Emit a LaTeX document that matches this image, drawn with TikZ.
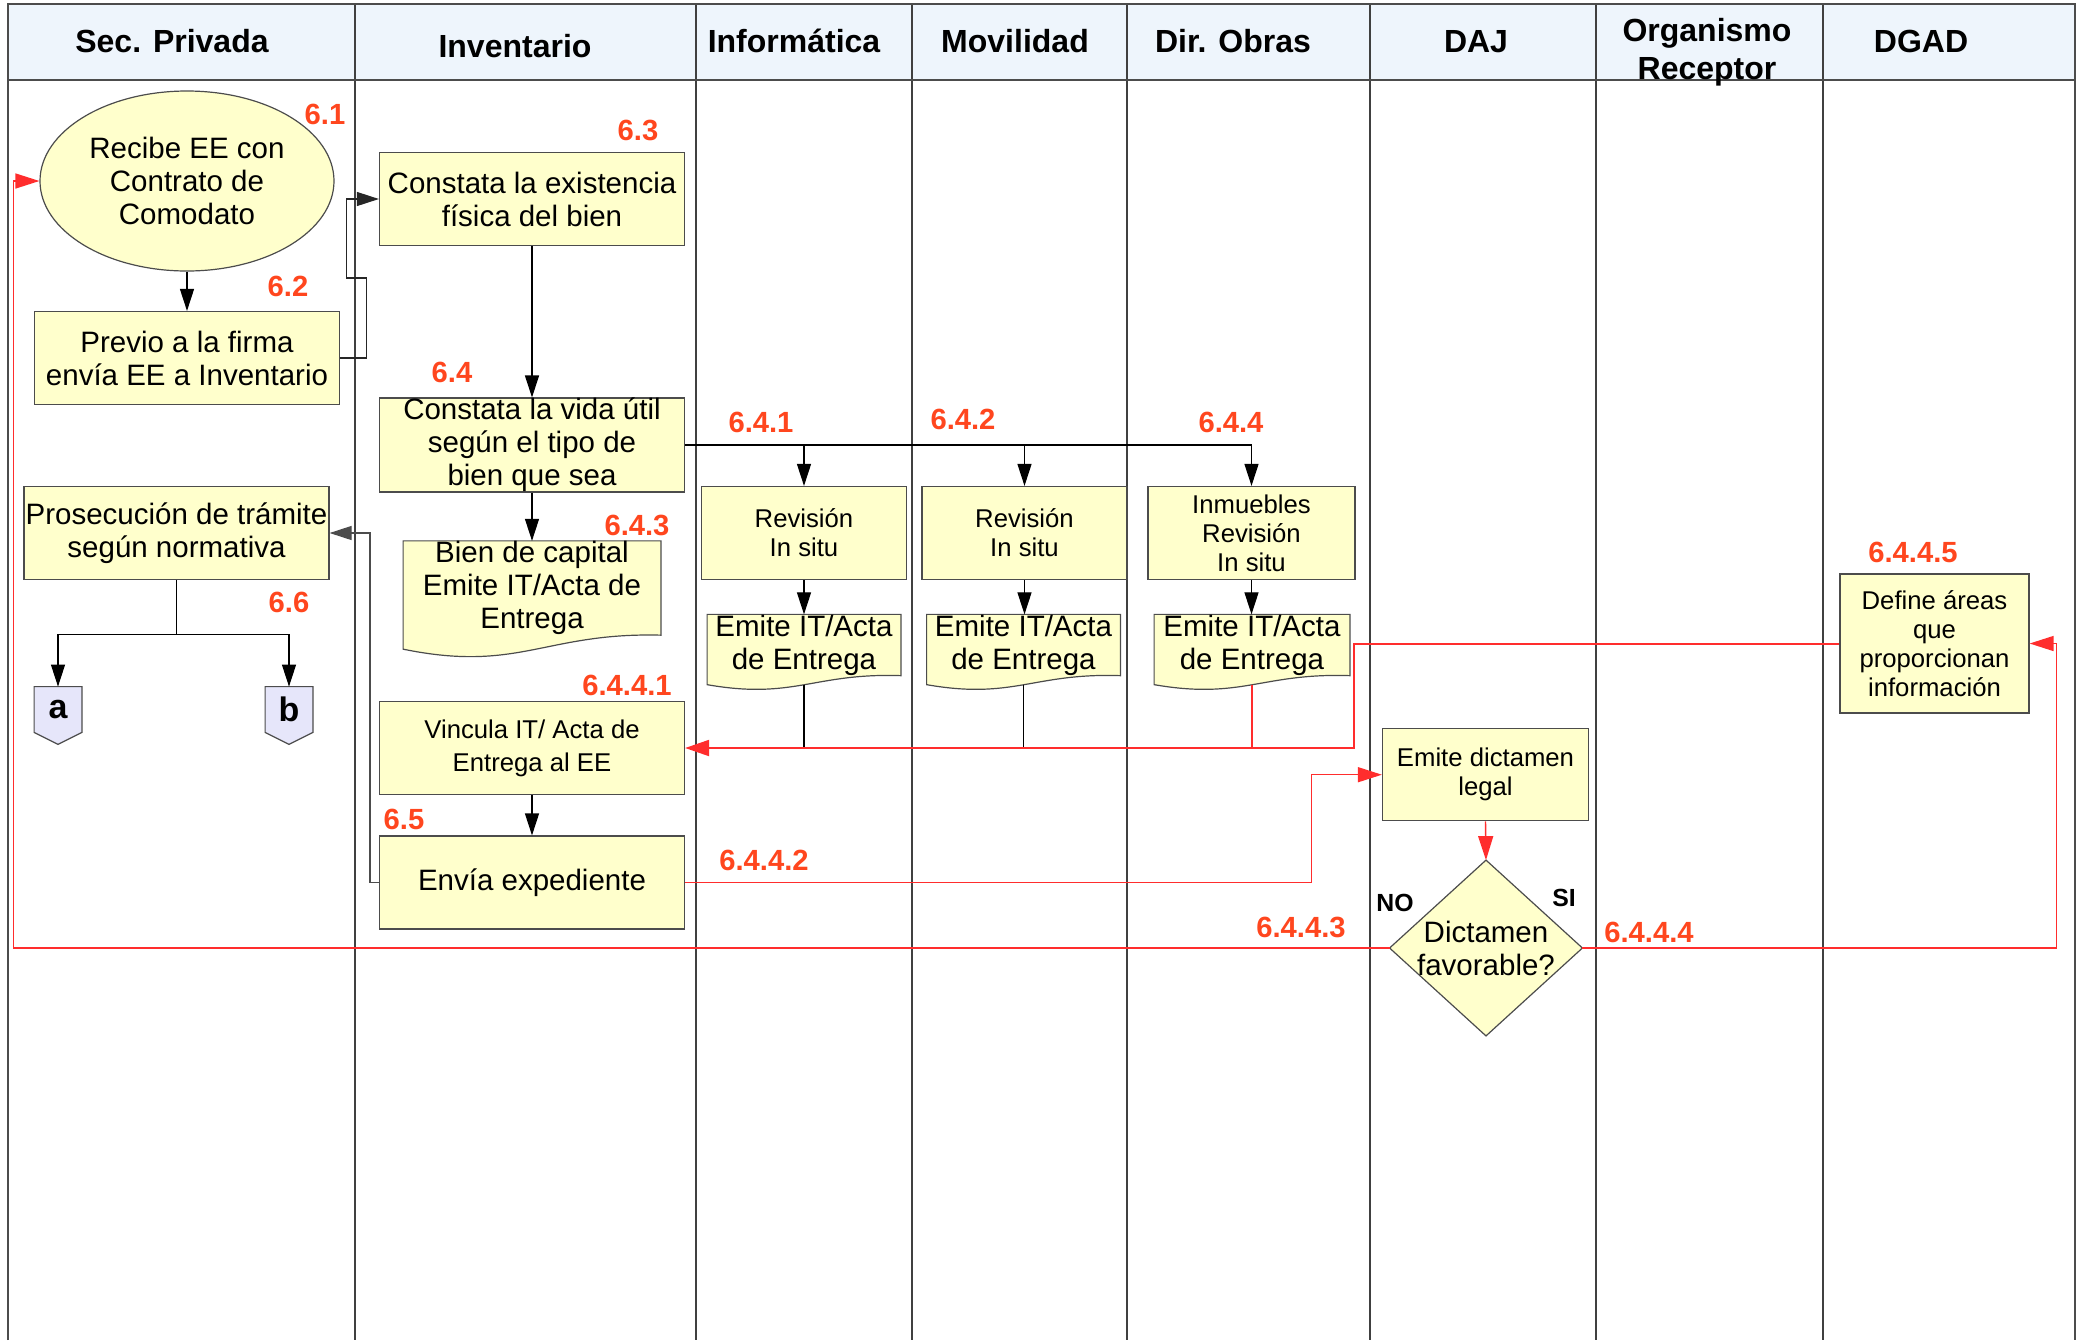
\documentclass[tikz,border=0pt]{standalone}
\usepackage{fontspec}
\setmainfont{Liberation Sans}
\usepackage{tikz}
\usetikzlibrary{arrows.meta,shapes.geometric,calc,backgrounds}

\definecolor{boxyellow}{RGB}{255,255,204}
\definecolor{headblue}{RGB}{238,245,252}
\definecolor{offblue}{RGB}{230,230,250}
\definecolor{numred}{RGB}{255,70,30}
\definecolor{linered}{RGB}{255,45,45}

\newcommand\txtbig{\fontsize{14.75pt}{16.5pt}\selectfont}
\newcommand\txtsmall{\fontsize{12.85pt}{14.5pt}\selectfont}
\newcommand\txthead{\fontsize{16pt}{19pt}\selectfont\bfseries}
\newcommand\txtnum{\fontsize{14.6pt}{16pt}\selectfont\bfseries}
\newcommand\txtchoice{\fontsize{12.4pt}{14pt}\selectfont\bfseries}

\newcommand\docshape[2]{%
  \begin{pgfonlayer}{background}
  \filldraw[docfill] (#1.north west) -- (#1.north east) -- (#1.south east)
    .. controls ($(#1.south east)!0.45!(#1.south west)+(0,-3)$) and ($(#1.south west)!0.45!(#1.south east)+(0,{2.7*#2})$) .. ($(#1.south west)+(0,#2)$) -- cycle;
  \end{pgfonlayer}}
\newcommand\diamshape[1]{%
  \begin{pgfonlayer}{background}
  \filldraw[docfill] (#1.north) -- (#1.east) -- (#1.south) -- (#1.west) -- cycle;
  \end{pgfonlayer}}
\newcommand\offshape[1]{%
  \begin{pgfonlayer}{background}
  \filldraw[docfill,fill=offblue] (#1.north west) -- (#1.north east) -- (#1.south east) -- ($(#1.south)+(0,12)$) -- (#1.south west) -- cycle;
  \end{pgfonlayer}}

\begin{document}
\begin{tikzpicture}[x=0.5pt,y=-0.5pt,>={Triangle[length=11pt,width=7pt]}]
  \tikzstyle{proc}=[rectangle,draw=black!70,line width=0.6pt,fill=boxyellow,minimum width=152.5pt,minimum height=46.5pt,inner xsep=0pt,inner ysep=0pt,align=center,font=\txtbig]
  \tikzstyle{proc small}=[proc,font=\txtsmall]
  \tikzstyle{doc}=[rectangle,inner sep=0pt,align=center,font=\txtbig]
  \tikzstyle{docfill}=[draw=black!70,line width=0.6pt,fill=boxyellow]
  \tikzstyle{offpg}=[rectangle,inner sep=0pt,minimum width=23.5pt,minimum height=22.5pt,font=\fontsize{17pt}{19pt}\selectfont\bfseries]
  \tikzstyle{head}=[anchor=base,inner sep=0pt,align=center,font=\txthead]
  \tikzstyle{num}=[inner sep=0pt,text=numred,font=\txtnum]
  \tikzstyle{choice}=[inner sep=0pt,font=\txtchoice]
  \tikzstyle{lane}=[draw=black!75,line width=0.6pt]
  \tikzstyle{frame}=[draw=black!70,line width=1pt]
  \tikzstyle{flow}=[->,draw=black,line width=0.6pt]
  \tikzstyle{tie}=[draw=black,line width=0.6pt]
  \tikzstyle{back}=[->,draw=linered,line width=0.7pt,>={Triangle[length=12pt,width=7.5pt]},linered]

  \useasboundingbox (0,0) rectangle (2078,1340);

  \fill[headblue] (8,4) rectangle (2075,80);
  \foreach \x in {355,696,912,1127,1370,1596,1823}
    \draw[lane] (\x,4) -- (\x,1340);
  \draw[frame] (8,1340) -- (8,4) -- (2075,4) -- (2075,1340);
  \draw[frame] (8,80) -- (2075,80);

  \node[head] (hsec) at (172,52) {Sec. Privada};
  \node[head] (hinv) at (515,57) {Inventario};
  \node[head] (hinf) at (794,52) {Informática};
  \node[head] (hmov) at (1015,52) {Movilidad};
  \node[head] (hobr) at (1233,52) {Dir. Obras};
  \node[head] (hdaj) at (1476,52) {DAJ};
  \node[head,anchor=center] (horg) at (1707,52) {Organismo\\Receptor};
  \node[head] (hdga) at (1921,52) {DGAD};

  \node[ellipse,draw=black!70,line width=0.6pt,fill=boxyellow,minimum width=147pt,minimum height=90pt,inner sep=0pt,align=center,font=\txtbig] (recibe) at (187,181) {Recibe EE con\\Contrato de\\Comodato};
  \node[proc] (previo) at (187,358) {Previo a la firma\\envía EE a Inventario};
  \node[proc] (existe) at (532,199) {Constata la existencia\\física del bien};
  \node[proc] (vida) at (532,445) {Constata la vida útil\\según el tipo de\\bien que sea};
  \node[doc,minimum width=128.5pt,minimum height=43.5pt] (capital) at (532,588) {Bien de capital\\Emite IT/Acta de\\Entrega};
  \node[proc] (prosec) at (176.5,533) {Prosecución de trámite\\según normativa};
  \node[proc small] (vincula) at (532,748) {Vincula IT/ Acta de\\[2pt]Entrega al EE};
  \node[proc] (envia) at (532,882.5) {Envía expediente};

  \node[proc small,minimum width=102.5pt] (rev1) at (804,533) {Revisión\\In situ};
  \node[proc small,minimum width=102.5pt] (rev2) at (1024.5,533) {Revisión\\In situ};
  \node[proc small,minimum width=103.5pt] (rev3) at (1251.5,533) {Inmuebles\\Revisión\\In situ};
  \node[doc,minimum width=96.5pt,minimum height=30pt] (emite1) at (804,645) {Emite IT/Acta\\de Entrega};
  \node[doc,minimum width=96.5pt,minimum height=30pt] (emite2) at (1023.5,645) {Emite IT/Acta\\de Entrega};
  \node[doc,minimum width=97.5pt,minimum height=30pt] (emite3) at (1252,645) {Emite IT/Acta\\de Entrega};

  \node[proc small,minimum width=103pt,minimum height=46pt] (legal) at (1485.5,774.7) {Emite dictamen\\legal};
  \node[doc,minimum width=96pt,minimum height=87.5pt] (favor) at (1486,948) {Dictamen\\favorable?};
  \node[proc small,minimum width=94.5pt,minimum height=69.5pt] (define) at (1934.5,643.5) {Define áreas\\que\\proporcionan\\información};

  \node[offpg] (offa) at (58,709.5) {a};
  \node[offpg] (offb) at (289,709.5) {b};

  \docshape{capital}{14}
  \docshape{emite1}{9}
  \docshape{emite2}{9}
  \docshape{emite3}{9}
  \diamshape{favor}
  \offshape{offa}
  \offshape{offb}

  \node[num] (n61) at (325,114) {6.1};
  \node[num] (n62) at (288,286) {6.2};
  \node[num] (n63) at (638,130) {6.3};
  \node[num] (n64) at (452,372) {6.4};
  \node[num] (n643) at (637,525) {6.4.3};
  \node[num] (n641) at (761,422) {6.4.1};
  \node[num] (n642) at (963,419) {6.4.2};
  \node[num] (n644) at (1231,422) {6.4.4};
  \node[num] (n6441) at (627,685) {6.4.4.1};
  \node[num] (n65) at (404,819) {6.5};
  \node[num] (n6442) at (764,860) {6.4.4.2};
  \node[num] (n6443) at (1301,927) {6.4.4.3};
  \node[num] (n6444) at (1649,932) {6.4.4.4};
  \node[num] (n6445) at (1913,552) {6.4.4.5};
  \node[num] (n66) at (289,602) {6.6};
  \node[choice] (no) at (1395,903) {NO};
  \node[choice] (si) at (1564,898) {SI};

  \draw[flow] (recibe.south) -- (previo.north);
  \draw[flow,draw=black!85] (previo.east) -- ++(26,0) -- ++(0,-80) -- ++(-20,0) |- (existe.west);
  \draw[flow] (existe.south) -- (vida.north);
  \draw[flow] (vida.south) -- (capital.north);
  \draw[flow] (vida.east) -| (rev3.north);
  \draw[flow] (vida.east -| rev1.north) -- (rev1.north);
  \draw[flow] (vida.east -| rev2.north) -- (rev2.north);
  \draw[flow] (rev1.south) -- (rev1.south |- emite1.north);
  \draw[flow] (rev2.south) -- (rev2.south |- emite2.north);
  \draw[flow] (rev3.south) -- (rev3.south |- emite3.north);
  \draw[tie] ([yshift=-4.5pt]emite1.south) -- (emite1.south |- vincula.east);
  \draw[tie] ([yshift=-4.5pt]emite2.south) -- (emite2.south |- vincula.east);
  \draw[tie,draw=linered] ([yshift=-4.5pt]emite3.south) -- (emite3.south |- vincula.east);
  \draw[tie] (prosec.south) -- ++(0,54) coordinate (split);
  \draw[flow] (split) -| (offa.north);
  \draw[flow] (split) -| (offb.north);
  \draw[flow] (vincula.south) -- (envia.north);
  \draw[flow,draw=black!70] (envia.west) -- ++(-9,0) |- (prosec.east);

  \draw[back] (envia.east) -| ([xshift=-35.3pt]legal.west) -- (legal.west);
  \draw[back] (legal.south) -- (favor.north);
  \draw[back] (favor.west) -| ([xshift=-13pt]recibe.west) -- (recibe.west);
  \draw[back] (favor.east) -| ([xshift=13.5pt]define.east) -- (define.east);
  \draw[back,line width=1pt,>={Triangle[length=12pt,width=8pt]}] (define.west) -- ++(-485,0) |- (vincula.east);
\end{tikzpicture}
\end{document}
